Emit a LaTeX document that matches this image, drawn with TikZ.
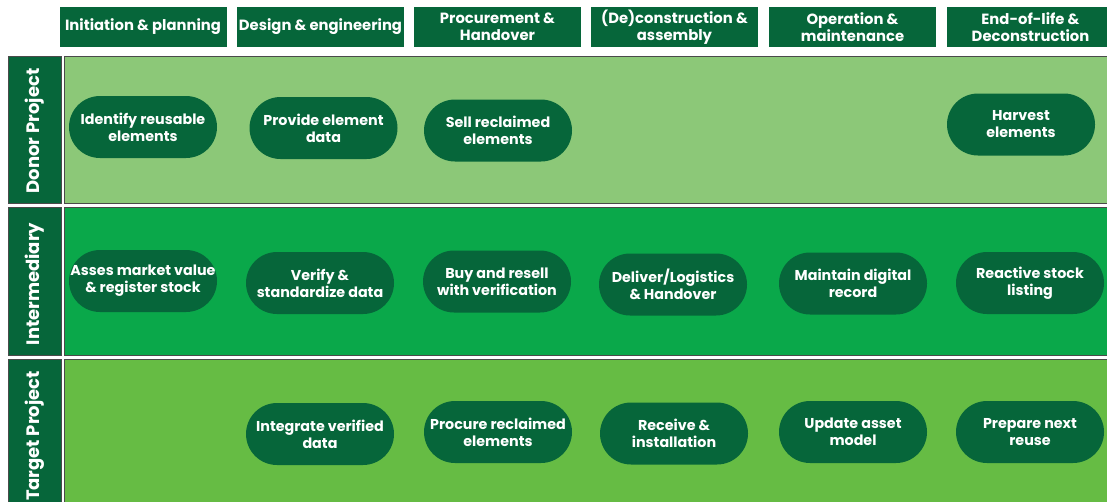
\documentclass[tikz,border=0pt]{standalone}
\usepackage{fontspec}
\setmainfont{Poppins}
\definecolor{darkgreen}{HTML}{06663A}
\definecolor{donorbg}{HTML}{8CC878}
\definecolor{interbg}{HTML}{0AA84A}
\definecolor{targetbg}{HTML}{66BC44}
\definecolor{edgegrey}{HTML}{4A4A4A}
\begin{document}
\begin{tikzpicture}[x=1pt,y=-1pt,
  phase/.style={fill=darkgreen,text=white,font=\bfseries\fontsize{14.8}{17}\selectfont,
    minimum width=167pt,minimum height=40pt,inner sep=0pt,align=center},
  lanebody/.style={draw=edgegrey,line width=1pt},
  lanelabel/.style={fill=darkgreen,draw=edgegrey,line width=0.6pt},
  lanetext/.style={text=white,rotate=90,font=\bfseries\fontsize{18}{21}\selectfont},
  task/.style={fill=darkgreen,text=white,rounded corners=31pt,
    minimum width=148pt,minimum height=62pt,inner sep=0pt,align=center,
    font=\bfseries\fontsize{14.3}{17}\selectfont}]
\useasboundingbox (0,0) rectangle (1107,501);
\clip (0,0) rectangle (1107,501);
\fill[white] (0,0) rectangle (1107,501);

% phase headers
\node[phase] (h1) at (143,27) {Initiation \& planning};
\node[phase] (h2) at (320.5,27) {Design \& engineering};
\node[phase] (h3) at (497.5,27) {Procurement \&\\Handover};
\node[phase] (h4) at (674.5,27) {(De)construction \&\\assembly};
\node[phase] (h5) at (852.5,27) {Operation \&\\maintenance};
\node[phase] (h6) at (1030.5,27) {End-of-life \&\\Deconstruction};

% swimlanes
\draw[lanebody,fill=donorbg] (64,56) rectangle (1112,203);
\draw[lanebody,fill=interbg] (64,207) rectangle (1112,355);
\draw[lanebody,fill=targetbg] (64,359) rectangle (1112,508);
\draw[lanelabel] (8,56) rectangle (61,203);
\draw[lanelabel] (8,207) rectangle (61,355);
\draw[lanelabel] (8,359) rectangle (61,508);
\node[lanetext] (l1) at (35,131) {Donor Project};
\node[lanetext] (l2) at (35,284) {Intermediary};
\node[lanetext] (l3) at (35,436) {Target Project};

% donor tasks
\node[task] (d1) at (143,127) {Identify reusable\\elements};
\node[task] (d2) at (323.5,128) {Provide element\\data};
\node[task] (d3) at (498,130.5) {Sell reclaimed\\elements};
\node[task] (d6) at (1021,124.5) {Harvest\\elements};

% intermediary tasks
\node[task] (i1) at (143,281) {Asses market value\\\& register stock};
\node[task] (i2) at (320,283) {Verify \&\\standardize data};
\node[task] (i3) at (497,281.5) {Buy and resell\\with verification};
\node[task] (i4) at (673,284.5) {Deliver/Logistics\\\& Handover};
\node[task] (i5) at (853,283.5) {Maintain digital\\record};
\node[task] (i6) at (1030,283) {Reactive stock\\listing};

% target tasks
\node[task] (t2) at (320,434) {Integrate verified\\data};
\node[task] (t3) at (498,432) {Procure reclaimed\\elements};
\node[task] (t4) at (674,433.5) {Receive \&\\installation};
\node[task] (t5) at (853,432) {Update asset\\model};
\node[task] (t6) at (1030,432) {Prepare next\\reuse};
\end{tikzpicture}
\end{document}
